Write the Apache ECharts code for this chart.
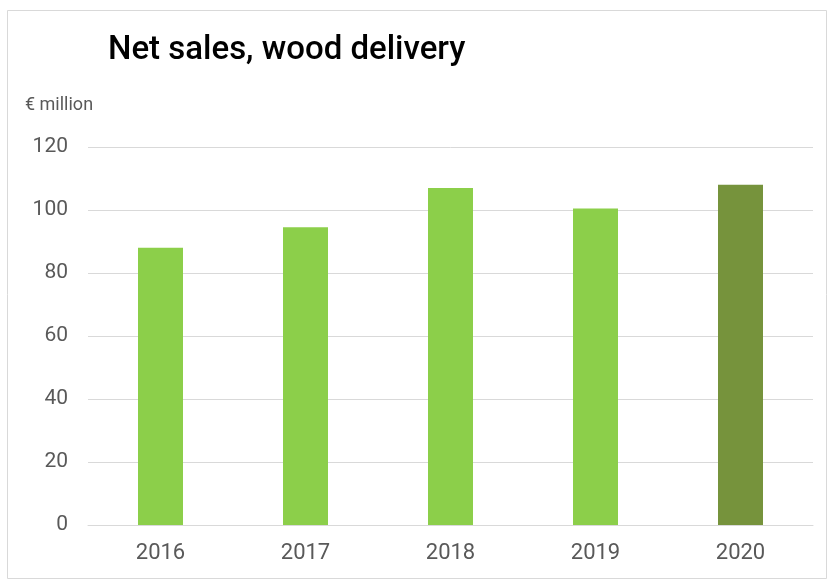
<!DOCTYPE html>
<html><head><meta charset="utf-8">
<script src="https://cdn.jsdelivr.net/npm/echarts@6/dist/echarts.min.js"></script>
<style>html,body{margin:0;padding:0;background:#fff}#c{width:832px;height:581px}</style>
</head><body><div id="c"></div>
<script>
const categories = ['2016','2017','2018','2019','2020'];
const values = [88, 94.5, 107, 100.5, 108];
const barColors = ['#8ccf4a','#8ccf4a','#8ccf4a','#8ccf4a','#76933c'];
const yTicks = [0, 20, 40, 60, 80, 100, 120];

const F = 'Roboto';
const chart = echarts.init(document.getElementById('c'), null, {renderer:'canvas'});
chart.setOption({
  animation: false,
  backgroundColor: '#fff',
  graphic: [{type:'rect', shape:{x:7.5,y:10.5,width:819,height:568}, style:{fill:'none', stroke:'#d9d9d9', lineWidth:1}, silent:true}],
  title: [
    {text:'Net sales, wood delivery', left:103, top:29, textStyle:{fontFamily:F, fontSize:33, fontWeight:500, color:'#000'}},
    {text:'€ million', left:20, top:91, textStyle:{fontFamily:F, fontSize:18, fontWeight:'normal', color:'#595959'}}
  ],
  grid: {left:88, right:19, top:147, bottom:56, containLabel:false},
  xAxis: {type:'category', data:categories,
    axisLine:{show:true, lineStyle:{color:'#d9d9d9', width:1}}, axisTick:{show:false},
    axisLabel:{color:'#595959', fontFamily:F, fontSize:22, margin:17}},
  yAxis: {type:'value', min:yTicks[0], max:yTicks[yTicks.length-1], interval:20,
    axisLine:{show:false}, axisTick:{show:false},
    splitLine:{lineStyle:{color:'#d9d9d9', width:1}},
    axisLabel:{color:'#595959', fontFamily:F, fontSize:21, margin:20}},
  series: [{type:'bar', barWidth:45,
    data: values.map((v,i)=>({value:v, itemStyle:{color:barColors[i]}}))}]
});
</script></body></html>
